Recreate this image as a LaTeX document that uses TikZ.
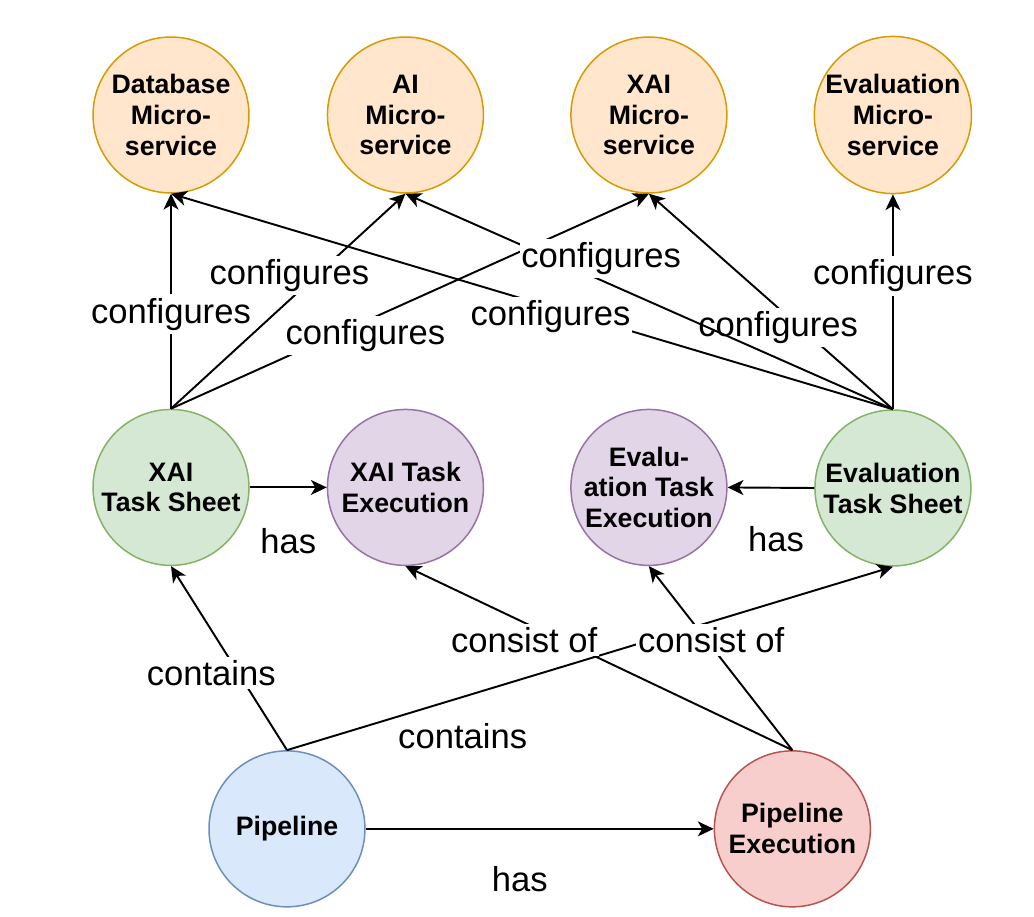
\documentclass[tikz,border=0pt]{standalone}
\usepackage{fontspec}
\setmainfont{Liberation Sans}
\usetikzlibrary{arrows.meta,positioning}
\definecolor{microfill}{HTML}{FFE6CC}
\definecolor{microline}{HTML}{D79B00}
\definecolor{sheetfill}{HTML}{D5E8D4}
\definecolor{sheetline}{HTML}{82B366}
\definecolor{execfill}{HTML}{E1D5E7}
\definecolor{execline}{HTML}{9673A6}
\definecolor{pipefill}{HTML}{DAE8FC}
\definecolor{pipeline}{HTML}{6C8EBF}
\definecolor{runfill}{HTML}{F8CECC}
\definecolor{runline}{HTML}{B85450}
\tikzset{
  concept/.style={
    circle,
    minimum size=3.12cm,
    inner sep=0pt,
    align=center,
    line width=0.85pt,
    font=\fontsize{15.2}{17.6}\selectfont\bfseries
  },
  micro/.style={concept, draw=microline, fill=microfill},
  sheet/.style={concept, draw=sheetline, fill=sheetfill},
  exec/.style={concept, draw=execline, fill=execfill},
  pipe/.style={concept, draw=pipeline, fill=pipefill},
  run/.style={concept, draw=runline, fill=runfill},
  line/.style={-{Stealth[length=9pt,width=8.5pt,inset=2.5pt]}, line width=1.1pt, draw=black},
  lbl/.style={fill=white, inner xsep=1pt, inner ysep=2pt, font=\fontsize{19.7}{23}\selectfont}
}
\begin{document}
\begin{tikzpicture}[x=0.02cm, y=-0.02cm]
  \useasboundingbox (0,0) rectangle (1034,916);

  \node[micro] (db) at (171,115) {Database\\Micro-\\service};
  \node[micro, right=1.54cm of db] (ai) {AI\\Micro-\\service};
  \node[micro, right=1.72cm of ai] (xmi) {XAI\\Micro-\\service};
  \node[micro, right=1.72cm of xmi] (evm) {Evaluation\\Micro-\\service};

  \node[sheet, below=4.3cm of db] (xts) {XAI\\Task Sheet};
  \node[exec, below=4.3cm of ai] (xte) {XAI Task\\Execution};
  \node[exec, below=4.3cm of xmi] (ete) {Evalu-\\ation Task\\Execution};
  \node[sheet, below=4.3cm of evm] (ets) {Evaluation\\Task Sheet};

  \node[pipe, below=3.68cm of xts, xshift=2.32cm] (pl) {Pipeline};
  \node[run, right=6.96cm of pl] (pe) {Pipeline\\Execution};

  \draw[line] (xts.north) -- (db.south) node[lbl, pos=0.44] {configures};
  \draw[line] (xts.north) -- (ai.south) node[lbl, pos=0.62, xshift=-0.54cm] {configures};
  \draw[line] (xts.north) -- (xmi.south) node[lbl, pos=0.34, xshift=0.64cm] {configures};
  \draw[line] (ets.north) -- (db.south) node[lbl, pos=0.43, xshift=-0.64cm] {configures};
  \draw[line] (ets.north) -- (xmi.south) node[lbl, pos=0.38, xshift=-0.44cm] {configures};
  \draw[line] (ets.north) -- (ai.south) node[lbl, pos=0.70, xshift=0.99cm] {configures};
  \draw[line] (ets.north) -- (evm.south) node[lbl, pos=0.62] {configures};

  \draw[line] (xts.east) -- (xte.west) node[lbl, pos=0.5, yshift=-1.08cm] {has};
  \draw[line] (ets.west) -- (ete.east) node[lbl, pos=0.5, xshift=0.1cm, yshift=-1.02cm] {has};
  \draw[line] (pl.north) -- (xts.south) node[lbl, pos=0.42, xshift=-0.54cm] {contains};
  \draw[line] (pl.north) -- (ets.south) node[lbl, pos=0.29, yshift=-0.78cm] {contains};
  \draw[line] (pe.north) -- (xte.south) node[lbl, pos=0.60, xshift=-0.72cm] {consist of};
  \draw[line] (pe.north) -- (ete.south) node[lbl, pos=0.60, xshift=0.1cm] {consist of};
  \draw[line] (pl.east) -- (pe.west) node[lbl, pos=0.5, xshift=-0.4cm, yshift=-1cm] {has};
\end{tikzpicture}
\end{document}
